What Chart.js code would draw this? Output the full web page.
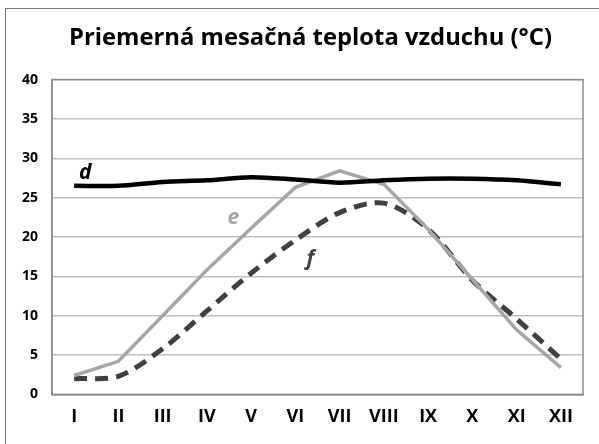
<!DOCTYPE html>
<html>
<head>
<meta charset="utf-8" />
<title>Priemerná mesačná teplota vzduchu</title>
<script src="https://cdn.jsdelivr.net/npm/chart.js@4.4.1/dist/chart.umd.min.js"></script>
<style>
  body { margin: 0; background: #fff; overflow: hidden; }
  #wrap { position: absolute; left: 0; top: 0; width: 599px; height: 444px; }
</style>
</head>
<body>
<div id="wrap"><canvas id="myChart" width="599" height="444"></canvas></div>
<script>
  // data
  var months = ['I', 'II', 'III', 'IV', 'V', 'VI', 'VII', 'VIII', 'IX', 'X', 'XI', 'XII'];
  var seriesD = [26.5, 26.5, 27.0, 27.2, 27.6, 27.3, 26.9, 27.2, 27.4, 27.4, 27.2, 26.7];
  var seriesE = [2.4, 4.2, 10.0, 15.8, 21.1, 26.3, 28.4, 26.7, 21.0, 14.6, 8.2, 3.4];
  var seriesF = [2.0, 2.3, 5.8, 10.6, 15.4, 19.6, 23.1, 24.3, 21.0, 14.5, 9.6, 4.5];
  var seriesNames = ['d', 'e', 'f'];
  // where each series letter sits: [category index, value]
  var letterSpots = [[0.25, 28.1], [3.6, 22.35], [5.34, 17.2]];
  var colors = ['#000000', '#a6a6a6', '#404040'];

  var letters = {
    id: 'letters',
    afterDatasetsDraw: function(chart) {
      var ctx = chart.ctx;
      var xs = chart.scales.x, ys = chart.scales.y;
      ctx.save();
      ctx.font = 'italic bold 21px "Open Sans"';
      ctx.textAlign = 'center';
      ctx.textBaseline = 'middle';
      seriesNames.forEach(function(n, i) {
        ctx.fillStyle = colors[i];
        ctx.fillText(n, xs.getPixelForValue(letterSpots[i][0]), ys.getPixelForValue(letterSpots[i][1]));
      });
      ctx.restore();
    }
  };

  // outer frame + plot box, title nudged to the right like the original
  var boxes = {
    id: 'boxes',
    afterLayout: function(chart) {
      if (chart.titleBlock) {
        chart.titleBlock.left += 38;
      }
    },
    beforeDraw: function(chart) {
      var ctx = chart.ctx;
      ctx.save();
      ctx.strokeStyle = '#7a7a7a';
      ctx.lineWidth = 1;
      ctx.strokeRect(5.5, 8.5, chart.width + 20, chart.height + 20);
      ctx.restore();
    },
    afterDraw: function(chart) {
      var a = chart.chartArea, ctx = chart.ctx;
      ctx.save();
      ctx.strokeStyle = '#8c8c8c';
      ctx.lineWidth = 1.5;
      ctx.strokeRect(a.left, a.top, a.right - a.left, a.bottom - a.top);
      ctx.restore();
    }
  };

  var myChart = new Chart(document.getElementById('myChart'), {
    type: 'line',
    data: {
      labels: months,
      datasets: [{
        label: seriesNames[0],
        data: seriesD,
        borderColor: colors[0],
        borderWidth: 4.5,
        tension: 0.3,
        pointRadius: 0
      }, {
        label: seriesNames[1],
        data: seriesE,
        borderColor: colors[1],
        borderWidth: 3.5,
        tension: 0,
        pointRadius: 0
      }, {
        label: seriesNames[2],
        data: seriesF,
        borderColor: colors[2],
        borderWidth: 5,
        borderDash: [13, 8],
        tension: 0.3,
        pointRadius: 0
      }]
    },
    options: {
      responsive: false,
      animation: false,
      layout: { padding: { left: 0, right: 16, top: 0, bottom: 4 } },
      plugins: {
        legend: { display: false },
        tooltip: { enabled: false },
        title: {
          display: true,
          text: 'Priemerná mesačná teplota vzduchu (°C)',
          color: '#000',
          font: { family: 'Open Sans', size: 23.8, weight: 'bold' },
          padding: { top: 24, bottom: 27 }
        }
      },
      scales: {
        x: {
          offset: true,
          grid: { display: false, drawTicks: false },
          border: { display: true, color: '#8c8c8c', width: 1.5 },
          ticks: { color: '#000', padding: 12, font: { family: 'Open Sans', size: 18, weight: 'bold' } }
        },
        y: {
          min: 0,
          max: 40,
          afterFit: function(scale) { scale.width = 52; },
          grid: { color: '#c0c0c0', lineWidth: 1.5, drawTicks: false },
          border: { display: true, color: '#8c8c8c', width: 1.5 },
          ticks: { stepSize: 5, color: '#000', padding: 14, font: { family: 'Open Sans', size: 14, weight: 'bold' } }
        }
      }
    },
    plugins: [letters, boxes]
  });
</script>
</body>
</html>
